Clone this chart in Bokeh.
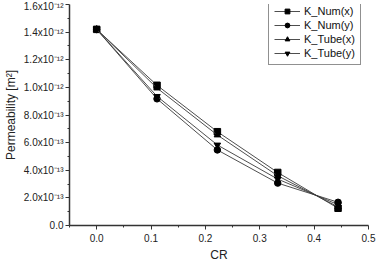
from bokeh.plotting import figure
from bokeh.models import FixedTicker, CustomJSTickFormatter, Legend, LegendItem, Range1d
from bokeh.embed import file_html
from bokeh.resources import INLINE

# Compression ratio and permeability (m^2)
cr = [0.0, 0.111, 0.222, 0.333, 0.444]
k_num_x = [1.42e-12, 1.015e-12, 0.679e-12, 0.384e-12, 0.125e-12]
k_num_y = [1.42e-12, 0.917e-12, 0.547e-12, 0.307e-12, 0.168e-12]
k_tube_x = [1.42e-12, 0.995e-12, 0.655e-12, 0.360e-12, 0.135e-12]
k_tube_y = [1.42e-12, 0.935e-12, 0.583e-12, 0.336e-12, 0.151e-12]

x_ticks = [0.0, 0.1, 0.2, 0.3, 0.4, 0.5]
x_minor = [-0.05, 0.05, 0.15, 0.25, 0.35, 0.45]
y_ticks = [0.0, 0.2e-12, 0.4e-12, 0.6e-12, 0.8e-12, 1.0e-12, 1.2e-12, 1.4e-12, 1.6e-12]
y_minor = [0.1e-12, 0.3e-12, 0.5e-12, 0.7e-12, 0.9e-12, 1.1e-12, 1.3e-12, 1.5e-12]

FONT = "Liberation Sans"

p = figure(width=377, height=264, output_backend="svg", toolbar_location=None,
           x_range=Range1d(-0.05, 0.5), y_range=Range1d(0.0, 1.6e-12),
           min_border_left=67, min_border_right=9, min_border_top=4, min_border_bottom=38)
p.outline_line_color = None
p.xgrid.visible = False
p.ygrid.visible = False

for ax in (p.xaxis[0], p.yaxis[0]):
    ax.axis_line_color = "#333333"
    ax.axis_line_width = 1.5
    ax.major_tick_line_color = "#333333"
    ax.minor_tick_line_color = "#333333"
    ax.major_tick_in = 0
    ax.major_tick_out = 4
    ax.minor_tick_in = 0
    ax.minor_tick_out = 2
    ax.major_label_text_font = FONT
    ax.major_label_text_font_size = "10px"
    ax.major_label_text_color = "#222222"
    ax.axis_label_text_font = FONT
    ax.axis_label_text_font_size = "12px"
    ax.axis_label_text_font_style = "normal"
    ax.axis_label_text_color = "#222222"

p.xaxis.ticker = FixedTicker(ticks=x_ticks, minor_ticks=x_minor)
p.xaxis.major_label_overrides = {t: f"{t:.1f}" for t in x_ticks}
p.xaxis.axis_label = "CR"
p.xaxis.major_label_standoff = 4
p.xaxis.axis_label_standoff = 3

p.yaxis.ticker = FixedTicker(ticks=y_ticks, minor_ticks=y_minor)
p.yaxis.formatter = CustomJSTickFormatter(code="""
    if (Math.abs(tick) < 1e-20) return "0.0";
    const e = Math.floor(Math.log10(Math.abs(tick)) + 1e-9);
    const m = tick / Math.pow(10, e);
    const sup = {"-": "\u207b", "0": "\u2070", "1": "\u00b9", "2": "\u00b2", "3": "\u00b3",
                 "4": "\u2074", "5": "\u2075", "6": "\u2076", "7": "\u2077", "8": "\u2078", "9": "\u2079"};
    return m.toFixed(1) + "x10" + String(e).split("").map(c => sup[c]).join("");
""")
p.yaxis.axis_label = "Permeability [m\u00b2]"
p.yaxis.major_label_standoff = 2
p.yaxis.axis_label_standoff = 3

series = [
    ("K_Num(x)", k_num_x, "square"),
    ("K_Num(y)", k_num_y, "circle"),
    ("K_Tube(x)", k_tube_x, "triangle"),
    ("K_Tube(y)", k_tube_y, "inverted_triangle"),
]

items = []
for name, vals, marker in series:
    ln = p.line(cr, vals, line_color="#3a3a3a", line_width=0.9)
    sc = p.scatter(cr, vals, marker=marker, size=6.5, fill_color="black", line_color="black")
    items.append(LegendItem(label=name, renderers=[ln, sc]))

legend = Legend(items=items, location=(199, 160))
legend.border_line_color = "#222222"
legend.border_line_width = 1
legend.background_fill_alpha = 1.0
legend.label_text_font = FONT
legend.label_text_font_size = "11px"
legend.label_text_color = "#111111"
legend.glyph_width = 26
legend.glyph_height = 12
legend.label_height = 12
legend.spacing = 2
legend.padding = 5
legend.margin = 0
legend.label_standoff = 4
p.add_layout(legend)

open("out.html", "w").write(file_html(p, INLINE))
